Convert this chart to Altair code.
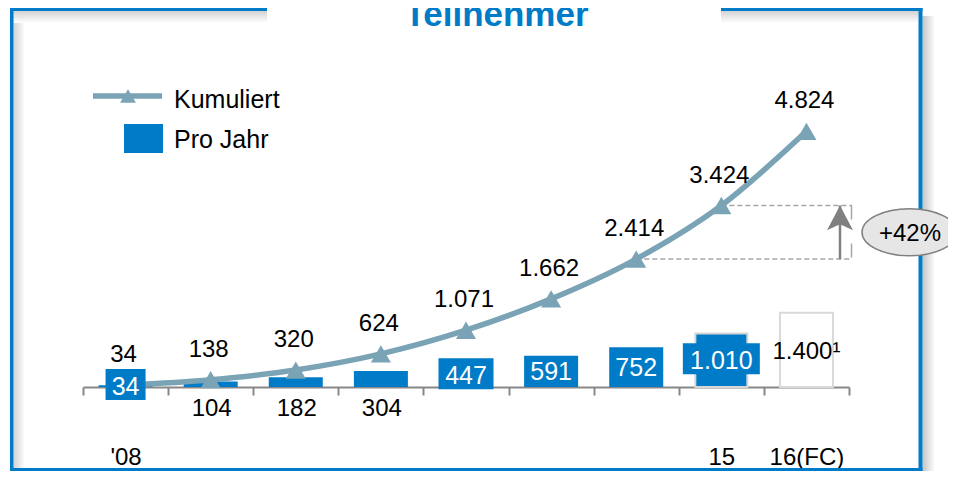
import json
import altair as alt
import pandas as pd

# ---- data ----
years = ["'08", "09", "10", "11", "12", "13", "14", "15", "16(FC)"]
per_year = [34, 104, 182, 304, 447, 591, 752, 1010, 1400]
cumulative = [34, 138, 320, 624, 1071, 1662, 2414, 3424, 4824]
shown_year_labels = ["'08", "15", "16(FC)"]
title_text = "Teilnehmer"
legend_line_label = "Kumuliert"
legend_bar_label = "Pro Jahr"
forecast_note = "¹"


def de(v):
    return f"{v:,}".replace(",", ".")


n = len(years)
df = pd.DataFrame({
    "year": years,
    "per_year": per_year,
    "cum": cumulative,
    "idx": list(range(n)),
    "per_label": [de(v) for v in per_year[:-1]] + [de(per_year[-1]) + forecast_note],
    "cum_label": [de(v) for v in cumulative],
})

lo, hi = cumulative[-3], cumulative[-2]
growth = pd.DataFrame({"lo": [lo], "hi": [hi], "mid": [(lo + hi) / 2],
                       "txt": [f"+{round((hi / lo - 1) * 100)}%"]})

# ---- style ----
BLUE = "#007BC7"
LINE = "#7AA3B5"
GRAY = "#878787"
FONT = "Liberation Sans"
W, H = 766, 360
YMAX = 6792
SVG_W, SVG_H = 940, 464
BOT = SVG_H - 19 - 1  # bottom edge of frame in plot coords

one = alt.Data(values=[{"k": 1}])

xaxis = alt.Axis(
    title=None, labelAngle=0, domainColor=GRAY, domainWidth=2, tickColor=GRAY,
    tickWidth=2, tickSize=8, tickBand="extent", labelFont=FONT, labelFontSize=24,
    labelColor="#000000", labelPadding=69, labelBaseline="alphabetic", grid=False,
    labelExpr=f"indexof({json.dumps(shown_year_labels)}, datum.value) >= 0 ? datum.value : ''",
)
X = alt.X("year:N", sort=years,
          scale=alt.Scale(type="band", domain=years, paddingInner=0, paddingOuter=0),
          axis=xaxis)
Ys = alt.Scale(domain=[0, YMAX], nice=False, zero=True)

base = alt.Chart(df)


def rect(x, x2, y, y2, **mk):
    return alt.Chart(one).mark_rect(**mk).encode(
        x=alt.value(x), x2=alt.value(x2), y=alt.value(y), y2=alt.value(y2))


def grad(horizontal, c0, c1="#ffffff"):
    return {"gradient": "linear", "x1": 0, "y1": 0,
            "x2": 1 if horizontal else 0, "y2": 0 if horizontal else 1,
            "stops": [{"offset": 0, "color": c0}, {"offset": 1, "color": c1}]}


# frame shadows and border (pixel decoration)
deco = [
    rect(839.5, 852, -11, BOT, fill=grad(True, "#c4c4c4")),
    rect(-69.5, -58, -16, BOT - 3, fill=grad(True, "#d2d2d2")),
    rect(-69.5, 184, -16, -4, fill=grad(False, "#d2d2d2")),
    rect(638, 835.5, -16, -4, fill=grad(False, "#d2d2d2")),
    rect(-73, -69.5, -19, BOT, fill=BLUE),
    rect(835.5, 839.5, -19, BOT, fill=BLUE),
    rect(-73, 184, -19, -16, fill=BLUE),
    rect(638, 839.5, -19, -16, fill=BLUE),
    rect(-73, 839.5, BOT - 3, BOT, fill=BLUE),
]

title = alt.Chart(one).mark_text(
    text=title_text, font=FONT, fontSize=35, fontWeight="bold", color=BLUE,
    align="center", baseline="alphabetic").encode(x=alt.value(413.5), y=alt.value(-1))

legend = [
    alt.Chart(one).mark_rule(color=LINE, strokeWidth=5.5).encode(
        x=alt.value(10), x2=alt.value(79), y=alt.value(69)),
    alt.Chart(one).mark_point(shape="triangle-up", filled=True, size=250, color=LINE,
                              opacity=1).encode(x=alt.value(45), y=alt.value(69)),
    rect(41, 80, 97, 126, fill=BLUE),
    alt.Chart(one).mark_text(text=legend_line_label, font=FONT, fontSize=25, color="#000",
                             align="left", baseline="alphabetic").encode(
        x=alt.value(91), y=alt.value(81)),
    alt.Chart(one).mark_text(text=legend_bar_label, font=FONT, fontSize=25, color="#000",
                             align="left", baseline="alphabetic").encode(
        x=alt.value(91), y=alt.value(121)),
]

forecast_bar = base.transform_filter(f"datum.idx == {n - 1}").mark_bar(
    width=53, fill="#ffffff", stroke="#d9d9d9", strokeWidth=2).encode(
    x=X, y=alt.Y("per_year:Q", scale=Ys, axis=None))

bars = base.transform_filter(f"datum.idx < {n - 2}").mark_bar(width=54, color=BLUE).encode(
    x=X, y=alt.Y("per_year:Q", scale=Ys, axis=None))
last_bar = base.transform_filter(f"datum.idx == {n - 2}").mark_bar(
    width=52, fill=BLUE, stroke="#d6d6d6", strokeWidth=2).encode(
    x=X, y=alt.Y("per_year:Q", scale=Ys, axis=None))

line = base.mark_line(color=LINE, strokeWidth=5.5, interpolate="monotone").encode(
    x=X, y=alt.Y("cum:Q", scale=Ys, axis=None))
tri = base.mark_point(shape="triangle-up", filled=True, size=400, color=LINE,
                      opacity=1).encode(x=X, y=alt.Y("cum:Q", scale=Ys, axis=None))
cum_text = base.mark_text(font=FONT, fontSize=24, color="#000", baseline="alphabetic",
                          dy=-23, dx=-2).encode(
    x=X, y=alt.Y("cum:Q", scale=Ys, axis=None), text="cum_label:N")

half = base.transform_calculate(half="datum.per_year / 2")

boxes = []
for i, w in [(0, 40), (4, 55), (n - 2, 77)]:
    k = round(31 / w, 4)
    boxes.append(half.transform_filter(f"datum.idx == {i}").mark_point(
        shape=f"M-1,-{k}H1V{k}H-1Z", size=w * w, filled=True, fill=BLUE,
        strokeWidth=0, opacity=1, yOffset=-1.5).encode(
        x=X, y=alt.Y("half:Q", scale=Ys, axis=None)))

white_lbl = half.transform_filter(f"datum.idx == 0 || (datum.idx >= 4 && datum.idx <= {n - 2})").mark_text(
    font=FONT, fontSize=25, color="#ffffff", baseline="alphabetic", dy=8.5).encode(
    x=X, y=alt.Y("half:Q", scale=Ys, axis=None), text="per_label:N")

below_lbl = base.transform_filter("datum.idx >= 1 && datum.idx <= 3").transform_calculate(
    zero="0").mark_text(font=FONT, fontSize=24, color="#000", baseline="alphabetic",
                        dy=29, dx=1).encode(
    x=X, y=alt.Y("zero:Q", scale=Ys, axis=None), text="per_label:N")

fc_lbl = half.transform_filter(f"datum.idx == {n - 1}").mark_text(
    font=FONT, fontSize=24, color="#000", baseline="alphabetic", dy=9).encode(
    x=X, y=alt.Y("half:Q", scale=Ys, axis=None), text="per_label:N")

dash = base.transform_filter(f"datum.idx == {n - 3} || datum.idx == {n - 2}").mark_rule(
    color="#a6a6a6", strokeWidth=1.5, strokeDash=[5, 3]).encode(
    x=X, x2=alt.value(769), y=alt.Y("cum:Q", scale=Ys, axis=None))

g = alt.Chart(growth)
bracket = g.mark_rule(color="#a6a6a6", strokeWidth=1.5, strokeDash=[14, 24]).encode(
    x=alt.value(768.5), y=alt.Y("hi:Q", scale=Ys, axis=None), y2="lo:Q")
shaft = g.mark_rule(color="#808080", strokeWidth=2.5).encode(
    x=alt.value(757), y=alt.Y("lo:Q", scale=Ys, axis=None), y2="hi:Q")
head = g.mark_point(shape="M0,0L1,1.9L0,1.45L-1,1.9Z", size=676, filled=True,
                    fill="#808080", strokeWidth=0, opacity=1).encode(
    x=alt.value(757), y=alt.Y("hi:Q", scale=Ys, axis=None))
ell = g.mark_point(shape="M-1,0A1,0.495 0 1,0 1,0A1,0.495 0 1,0 -1,0Z", size=9025,
                   filled=True, fill="#e6e6e6", stroke="#7f7f7f", strokeWidth=1.5,
                   opacity=1).encode(x=alt.value(826.5), y=alt.Y("mid:Q", scale=Ys, axis=None))
ell_txt = g.mark_text(font=FONT, fontSize=24, color="#000", baseline="alphabetic",
                      dy=8.5).encode(x=alt.value(827), y=alt.Y("mid:Q", scale=Ys, axis=None),
                                     text="txt:N")

chart = alt.layer(
    *deco, title, *legend,
    forecast_bar, bars, last_bar, below_lbl, dash, bracket,
    line, tri, *boxes, white_lbl, fc_lbl, cum_text,
    shaft, head, ell, ell_txt,
).properties(
    width=W, height=H,
    autosize=alt.AutoSizeParams(type="none"),
    padding={"left": 75, "top": 19, "right": SVG_W - 75 - W, "bottom": SVG_H - 19 - H},
    background="#ffffff",
).configure_view(stroke=None)

chart.save("out.html", embed_options={"renderer": "svg", "actions": False})
